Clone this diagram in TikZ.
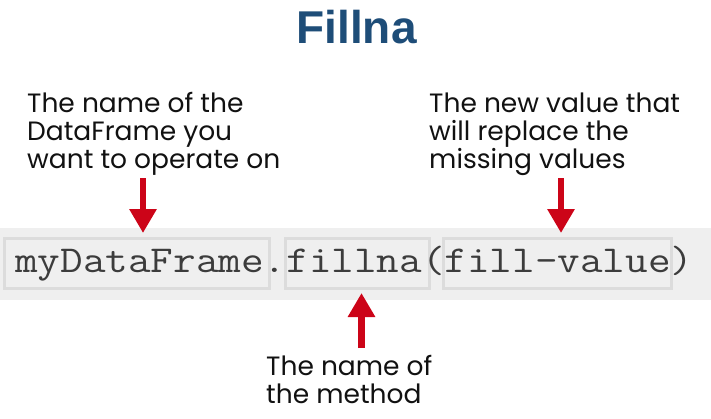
\documentclass[tikz,border=0pt]{standalone}
\usepackage{fontspec}
\usepackage{graphicx}
\setmainfont{Poppins}
\newfontfamily\titlefont{Liberation Sans}
\usetikzlibrary{arrows.meta}
\definecolor{titleblue}{RGB}{30,77,120}
\definecolor{arrowred}{RGB}{204,4,24}
\definecolor{bandgray}{RGB}{239,239,239}
\definecolor{boxborder}{RGB}{220,220,220}
\definecolor{codegray}{RGB}{60,60,60}
\definecolor{labelblack}{RGB}{17,17,17}
\tikzset{
  codebox/.style={draw=boxborder, line width=3pt, fill=bandgray},
  label/.style={inner sep=0pt, anchor=base west, align=left, text=labelblack,
    font=\fontsize{26.5}{28}\selectfont},
  pointer/.style={draw=arrowred, line width=6.5pt,
    -{Triangle[length=24pt,width=26pt]}, shorten >=0pt},
}
\begin{document}
\begin{tikzpicture}[x=1pt,y=-1pt]
\useasboundingbox (0,0) rectangle (711,418);
\fill[bandgray] (0,228) rectangle (711,300);
\draw[codebox] (4,238.5) rectangle (269.5,288.5);
\draw[codebox] (285.5,238.5) rectangle (429.5,288.5);
\draw[codebox] (443.5,238.5) rectangle (671.5,288.5);
\node[inner sep=0pt, anchor=base west, text=codegray,
  font=\ttfamily\fontsize{38}{40}\selectfont] (code) at (15,272)
  {\scalebox{1.155}[1]{myDataFrame.fillna(fill-value)}};
\node[inner sep=0pt, anchor=base, text=titleblue,
  font=\titlefont\bfseries\fontsize{46}{50}\selectfont] (title) at (356.5,43) {Fillna};
\node[label] (lab1) at (27,168) {The name of the\\DataFrame you\\want to operate on};
\node[label] (lab2) at (429,168) {The new value that\\will replace the\\missing values};
\node[label] (lab3) at (266,403) {The name of\\the method};
\coordinate (a1s) at (143,178);
\coordinate (a1e) at (143,233);
\coordinate (a2s) at (561,178);
\coordinate (a2e) at (561,233);
\coordinate (a3s) at (361.5,348);
\coordinate (a3e) at (361.5,293);
\draw[pointer] (a1s) -- (a1e);
\draw[pointer] (a2s) -- (a2e);
\draw[pointer] (a3s) -- (a3e);
\end{tikzpicture}
\end{document}
